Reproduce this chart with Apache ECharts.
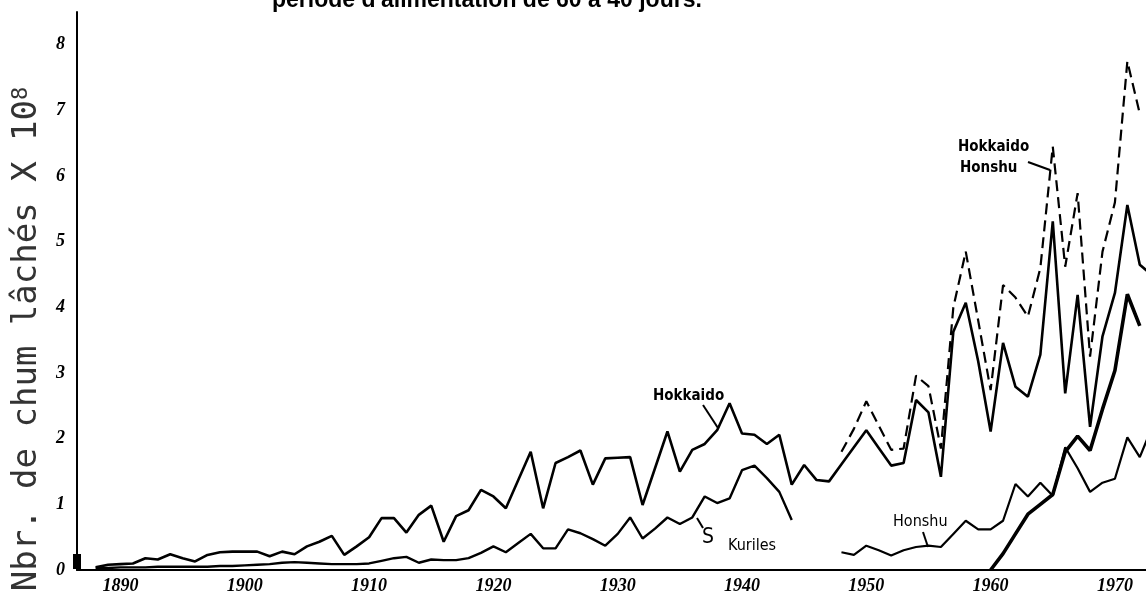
<!DOCTYPE html>
<html>
<head>
<meta charset="utf-8">
<script src="https://cdn.jsdelivr.net/npm/echarts@6/dist/echarts.min.js"></script>
<style>
html,body{margin:0;padding:0;background:#fff;}
#chart{width:1146px;height:598px;}
</style>
</head>
<body>
<div id="chart"></div>
<script>
// ---- tick labels ----
const xTickYears = [1890, 1900, 1910, 1920, 1930, 1940, 1950, 1960, 1970];
const yTickValues = [0, 1, 2, 3, 4, 5, 6, 7, 8];

// ---- series values (one value per year, starting at the given year) ----
const hokkaidoStart = 1888;
const hokkaido = [
  0.04, 0.08, 0.09, 0.10, 0.18, 0.16, 0.24, 0.18, 0.13, 0.23, // 1888-1897
  0.27, 0.28, 0.28, 0.28, 0.21, 0.28, 0.24, 0.36, 0.43, 0.52, // 1898-1907
  0.23, 0.36, 0.50, 0.79, 0.79, 0.57, 0.84, 0.98, 0.43, 0.82, // 1908-1917
  0.91, 1.22, 1.12, 0.94, 1.37, 1.80, 0.94, 1.63, 1.72, 1.82, // 1918-1927
  1.30, 1.70, 1.71, 1.72, 0.99, 1.55, 2.11, 1.50, 1.83, 1.92, // 1928-1937
  2.13, 2.54, 2.08, 2.06, 1.92, 2.06, 1.30, 1.60, 1.37, 1.35, // 1938-1947
  1.61, 1.87, 2.13, 1.86, 1.59, 1.63, 2.59, 2.40, 1.42, 3.63, // 1948-1957
  4.07, 3.18, 2.11, 3.46, 2.79, 2.64, 3.28, 5.31, 2.69, 4.19, // 1958-1967
  2.18, 3.56, 4.22, 5.56, 4.65, 4.49                          // 1968-1973
];

const kurilesStart = 1888;
const sKuriles = [
  0.03, 0.03, 0.04, 0.04, 0.04, 0.05, 0.05, 0.05, 0.05, 0.05, // 1888-1897
  0.06, 0.06, 0.07, 0.08, 0.09, 0.11, 0.12, 0.11, 0.10, 0.09, // 1898-1907
  0.09, 0.09, 0.10, 0.14, 0.18, 0.20, 0.11, 0.16, 0.15, 0.15, // 1908-1917
  0.18, 0.26, 0.36, 0.27, 0.41, 0.55, 0.33, 0.33, 0.62, 0.56, // 1918-1927
  0.47, 0.37, 0.55, 0.80, 0.48, 0.63, 0.80, 0.70, 0.80, 1.12, // 1928-1937
  1.02, 1.09, 1.52, 1.59, 1.40, 1.19, 0.76                    // 1938-1944
];

const honshuStart = 1948;
const honshu = [
  0.27, 0.23, 0.37, 0.30, 0.22, 0.30, 0.35, 0.37, 0.35, 0.55, // 1948-1957
  0.75, 0.62, 0.62, 0.75, 1.31, 1.12, 1.33, 1.13, 1.87, 1.55, // 1958-1967
  1.19, 1.33, 1.39, 2.02, 1.72, 2.18                          // 1968-1973
];

const hokHonStart = 1948;
const hokkaidoHonshu = [
  1.80, 2.15, 2.57, 2.20, 1.83, 1.85, 2.96, 2.80, 1.85, 4.00, // 1948-1957
  4.85, 3.80, 2.74, 4.34, 4.15, 3.86, 4.60, 6.45, 4.62, 5.74, // 1958-1967
  3.25, 4.85, 5.60, 7.75, 6.95                                // 1968-1972
];

const thickStart = 1960;
const thickSeries = [
  0.00, 0.25, 0.55, 0.85, 1.00, 1.15, 1.80, 2.04, 1.82, 2.45, // 1960-1969
  3.04, 4.20, 3.72                                            // 1970-1972
];

function toPairs(start, vals) { return vals.map((v, i) => [start + i, v]); }

const handFont = '"Liberation Sans Narrow","DejaVu Sans Condensed","Liberation Sans",sans-serif';
const tickFont = '"Liberation Serif",serif';

const chart = echarts.init(document.getElementById('chart'), null, {renderer: 'canvas'});

const option = {
  animation: false,
  backgroundColor: '#ffffff',
  grid: {left: 77, right: 0, top: 12, bottom: 28, containLabel: false},
  xAxis: {
    type: 'value', min: 1886.5, max: 1972.5,
    axisLine: {show: true, lineStyle: {color: '#000', width: 2}},
    axisTick: {show: false},
    splitLine: {show: false},
    axisLabel: {
      customValues: xTickYears, margin: 7,
      formatter: v => String(v),
      color: '#000', fontFamily: tickFont, fontStyle: 'italic',
      fontWeight: 'bold', fontSize: 18
    }
  },
  yAxis: {
    type: 'value', min: 0, max: 8.5,
    axisLine: {show: true, lineStyle: {color: '#000', width: 2}},
    axisTick: {show: false},
    splitLine: {show: false},
    axisLabel: {
      customValues: yTickValues, margin: 12,
      formatter: v => String(v),
      color: '#000', fontFamily: tickFont, fontStyle: 'italic',
      fontWeight: 'bold', fontSize: 18
    }
  },
  series: [
    {name: 'Hokkaido', type: 'line', data: toPairs(hokkaidoStart, hokkaido),
     showSymbol: false, lineStyle: {color: '#000', width: 2.6}, itemStyle: {color: '#000'}},
    {name: 'S Kuriles', type: 'line', data: toPairs(kurilesStart, sKuriles),
     showSymbol: false, lineStyle: {color: '#000', width: 2.4}, itemStyle: {color: '#000'}},
    {name: 'Honshu', type: 'line', data: toPairs(honshuStart, honshu),
     showSymbol: false, lineStyle: {color: '#000', width: 2.2}, itemStyle: {color: '#000'}},
    {name: 'Hokkaido + Honshu', type: 'line', data: toPairs(hokHonStart, hokkaidoHonshu),
     showSymbol: false, lineStyle: {color: '#000', width: 2.2, type: [11, 6]}, itemStyle: {color: '#000'}},
    {name: 'Série 5', type: 'line', data: toPairs(thickStart, thickSeries),
     showSymbol: false, lineStyle: {color: '#000', width: 3.6}, itemStyle: {color: '#000'}}
  ],
  graphic: [
    // title (partly cut at the top of the picture)
    {type: 'text', left: 272, top: -11, silent: true,
     style: {text: "période d'alimentation de 60 à 40 jours.", fill: '#000',
             font: 'bold 23px "Liberation Sans", Arial, sans-serif'}},
    // y axis name
    {type: 'text', x: 27, y: 339, rotation: Math.PI / 2, silent: true,
     style: {text: 'Nbr. de chum lâchés X 10{sup|8}', fill: '#333',
             font: '34px "DejaVu Sans Mono", monospace', align: 'center', verticalAlign: 'middle',
             rich: {sup: {fontSize: 22, fontFamily: '"DejaVu Sans Mono", monospace', verticalAlign: 'top', fill: '#333'}}}},
    // curve annotations
    {type: 'text', x: 653, y: 396, silent: true,
     style: {text: 'Hokkaido', fill: '#000', font: 'bold 15px ' + handFont, verticalAlign: 'middle'}},
    {type: 'line', silent: true, shape: {x1: 703, y1: 405, x2: 718, y2: 428}, style: {stroke: '#000', lineWidth: 2}},
    {type: 'line', silent: true, shape: {x1: 697, y1: 518, x2: 703, y2: 528}, style: {stroke: '#000', lineWidth: 2}},
    {type: 'text', x: 702, y: 538, silent: true,
     style: {text: 'S', fill: '#000', font: '21px ' + handFont, verticalAlign: 'middle'}},
    {type: 'text', x: 728, y: 546, silent: true,
     style: {text: 'Kuriles', fill: '#000', font: '16px ' + handFont, verticalAlign: 'middle'}},
    {type: 'text', x: 958, y: 147, silent: true,
     style: {text: 'Hokkaido', fill: '#000', font: 'bold 15px ' + handFont, verticalAlign: 'middle'}},
    {type: 'text', x: 960, y: 168, silent: true,
     style: {text: 'Honshu', fill: '#000', font: 'bold 15px ' + handFont, verticalAlign: 'middle'}},
    {type: 'line', silent: true, shape: {x1: 1028, y1: 162, x2: 1050, y2: 170}, style: {stroke: '#000', lineWidth: 2.2}},
    {type: 'text', x: 893, y: 522, silent: true,
     style: {text: 'Honshu', fill: '#000', font: '16px ' + handFont, verticalAlign: 'middle'}},
    {type: 'line', silent: true, shape: {x1: 923, y1: 532, x2: 928, y2: 547}, style: {stroke: '#000', lineWidth: 2}},
    // ink mark at the origin of the scan
    {type: 'rect', silent: true, shape: {x: 73, y: 554, width: 8, height: 15}, style: {fill: '#000'}}
  ]
};
chart.setOption(option);
</script>
</body>
</html>
